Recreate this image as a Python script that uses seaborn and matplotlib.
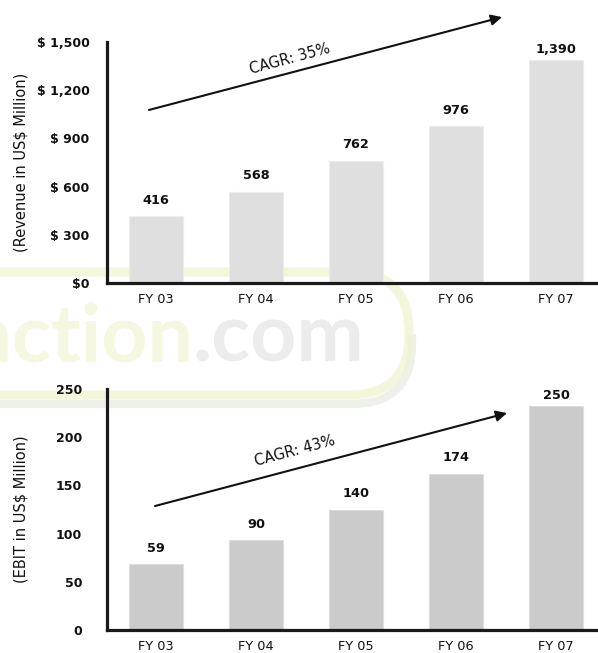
import matplotlib
matplotlib.use("Agg")
import matplotlib.pyplot as plt
import seaborn as sns
from matplotlib.patches import FancyBboxPatch, Rectangle

# ---------------- data ----------------
years = ["FY 03", "FY 04", "FY 05", "FY 06", "FY 07"]
revenue = [416, 568, 762, 976, 1390]
revenue_labels = ["416", "568", "762", "976", "1,390"]
rev_ticks = [0, 300, 600, 900, 1200, 1500]
rev_ticklabels = ["$0", "$ 300", "$ 600", "$ 900", "$ 1,200", "$ 1,500"]

ebit_bar_heights = [68, 93, 125, 162, 232]   # bar heights as drawn in the picture
ebit_labels = ["59", "90", "140", "174", "250"]
ebit_ticks = [0, 50, 100, 150, 200, 250]
ebit_ticklabels = ["0", "50", "100", "150", "200", "250"]

rev_cagr = "CAGR: 35%"
ebit_cagr = "CAGR: 43%"

# ---------------- figure ----------------
sns.set_theme(style="white")
plt.rcParams["font.family"] = ["DejaVu Sans"]

W, H = 598, 653
fig = plt.figure(figsize=(W / 100, H / 100), dpi=100)
fig.patch.set_facecolor("white")


def px_axes(left, top, right, bottom):
    return fig.add_axes([left / W, 1 - bottom / H, (right - left) / W, (bottom - top) / H])


ax1 = px_axes(107, 42, 598, 283)
ax2 = px_axes(107, 389, 598, 630)
ax1.set_zorder(2)
ax2.set_zorder(2)

spine_col = "#1a1a1a"


def style(ax, ylim, ticks, ticklabels, ypad, xpad, ylabel):
    ax.set_facecolor("none")
    ax.set_xlim(-0.49, 4.42)
    ax.set_ylim(*ylim)
    ax.set_yticks(ticks)
    ax.set_yticklabels(ticklabels, fontsize=9, fontweight="bold", color="#111111")
    ax.tick_params(axis="y", length=0, pad=ypad)
    ax.tick_params(axis="x", length=0, pad=xpad, labelsize=9.3, labelcolor="#111111")
    for s in ["top", "right"]:
        ax.spines[s].set_visible(False)
    for s in ["left", "bottom"]:
        ax.spines[s].set_color(spine_col)
        ax.spines[s].set_linewidth(2.3)
    ax.set_xlabel("")
    ax.set_ylabel(ylabel, fontsize=10.5, color="#111111")
    ax.yaxis.label.set_va("center")
    ax.yaxis.set_label_coords(-0.176, 0.5)
    ax.grid(False)


# top chart
sns.barplot(x=years, y=revenue, color="#dfdfdf", saturation=1, width=0.54,
            edgecolor="#ececec", linewidth=0.8, ax=ax1)
style(ax1, (0, 1500), rev_ticks, rev_ticklabels, 12.5, 7.5, "(Revenue in US$ Million)")
for i, (v, lab) in enumerate(zip(revenue, revenue_labels)):
    off = 7.5 if i == len(revenue) - 1 else 11.5
    ax1.annotate(lab, xy=(i, v), xytext=(0, off), textcoords="offset points",
                 ha="center", va="center", fontsize=9.3, fontweight="bold", color="#111111")

ax1.annotate("", xy=(3.46, 1655), xytext=(-0.07, 1077),
             arrowprops=dict(arrowstyle="-|>", lw=1.5, color="#111111", mutation_scale=16,
                             shrinkA=0, shrinkB=0),
             annotation_clip=False)
ax1.text(1.335, 1394, rev_cagr, rotation=15, ha="center", va="center",
         fontsize=10.5, color="#111111", rotation_mode="anchor")

# bottom chart
sns.barplot(x=years, y=ebit_bar_heights, color="#cbcbcb", saturation=1, width=0.54,
            edgecolor="#dddddd", linewidth=0.8, ax=ax2)
style(ax2, (0, 250), ebit_ticks, ebit_ticklabels, 18, 7.5, "(EBIT in US$ Million)")
for i, (v, lab) in enumerate(zip(ebit_bar_heights, ebit_labels)):
    off = 7.5 if i == len(ebit_bar_heights) - 1 else 11.5
    ax2.annotate(lab, xy=(i, v), xytext=(0, off), textcoords="offset points",
                 ha="center", va="center", fontsize=9.3, fontweight="bold", color="#111111")

ax2.annotate("", xy=(3.51, 225), xytext=(-0.01, 128.6),
             arrowprops=dict(arrowstyle="-|>", lw=1.5, color="#111111", mutation_scale=16,
                             shrinkA=0, shrinkB=0),
             annotation_clip=False)
ax2.text(1.385, 185.7, ebit_cagr, rotation=15, ha="center", va="center",
         fontsize=10.5, color="#111111", rotation_mode="anchor")

# ---------------- watermark ----------------
def inch(px, py):
    return px / 100, (H - py) / 100

x0, y0 = inch(-100, 395)
x1, y1 = inch(409, 272)
shadow = FancyBboxPatch((x0 + 0.03, y0 - 0.09), x1 - x0, y1 - y0,
                        boxstyle="round,pad=0,rounding_size=0.6",
                        transform=fig.dpi_scale_trans, fill=False,
                        edgecolor="#e4e8dc", linewidth=6, alpha=0.6, zorder=0.5)
clip = Rectangle((-2, 0), 12, (y0 + y1) / 2, transform=fig.dpi_scale_trans)
shadow.set_clip_path(clip)
band = FancyBboxPatch((x0, y0), x1 - x0, y1 - y0,
                      boxstyle="round,pad=0,rounding_size=0.6",
                      transform=fig.dpi_scale_trans, fill=False,
                      edgecolor="#f0f3d0", linewidth=6.5, alpha=0.75, zorder=0.6)
fig.patches.extend([shadow, band])

wm_font = ["Lato", "DejaVu Sans"]
bx, by = inch(193, 362)
fig.text(bx / (W / 100), by / (H / 100), "action", ha="right", va="baseline",
         fontsize=58, fontweight="bold", color="#f5f7e0", family=wm_font, zorder=0.4)
fig.text(bx / (W / 100), by / (H / 100), ".com", ha="left", va="baseline",
         fontsize=58, fontweight="bold", color="#ececec", family=wm_font, zorder=0.4)

fig.savefig("out.png", dpi=100, facecolor="white")
